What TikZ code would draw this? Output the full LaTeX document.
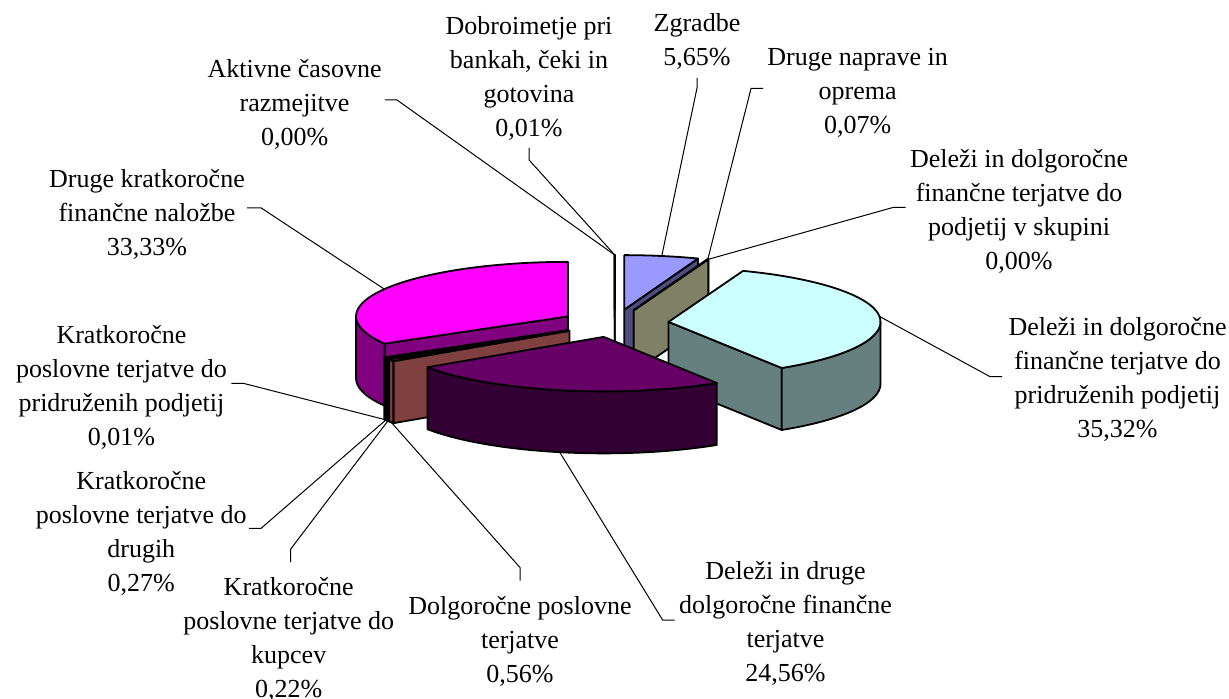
\documentclass[tikz,border=0pt]{standalone}
\usepackage{fontspec}
\setmainfont{Liberation Serif}
\usetikzlibrary{calc, positioning}

\definecolor{zgtop}{HTML}{9999FF}\definecolor{zgside}{HTML}{4D4D80}
\definecolor{nptop}{HTML}{993366}\definecolor{npside}{HTML}{4D1A33}
\definecolor{sktop}{HTML}{FFFFCC}\definecolor{skside}{HTML}{808066}
\definecolor{prtop}{HTML}{CCFFFF}\definecolor{prside}{HTML}{668080}
\definecolor{ddtop}{HTML}{660066}\definecolor{ddside}{HTML}{330033}
\definecolor{dptop}{HTML}{FF8080}\definecolor{dpside}{HTML}{804040}
\definecolor{kutop}{HTML}{0066CC}\definecolor{kuside}{HTML}{003366}
\definecolor{drtop}{HTML}{CCCCFF}\definecolor{drside}{HTML}{666680}
\definecolor{kptop}{HTML}{000080}\definecolor{kpside}{HTML}{000040}
\definecolor{kftop}{HTML}{FF00FF}\definecolor{kfside}{HTML}{800080}
\definecolor{aktop}{HTML}{FFFF00}\definecolor{akside}{HTML}{808000}
\definecolor{dbtop}{HTML}{00FFFF}\definecolor{dbside}{HTML}{008080}

\newcommand{\pcx}{614.8}
\newcommand{\pcy}{323.3}
\newcommand{\prx}{212}
\newcommand{\pry}{54.5}
\newcommand{\pdep}{62}
\newcommand{\pexp}{54}
\newcommand{\pk}{0.257}

% #1,#2 angles, #3 top colour, #4 side colour, #5 leader tip
\newcommand{\pieslice}[5]{%
  \pgfmathsetmacro{\am}{(#1+#2)/2}%
  \pgfmathsetmacro{\ox}{\pcx+\pexp*cos(\am)}%
  \pgfmathsetmacro{\oy}{\pcy-\pexp*\pk*sin(\am)}%
  \pgfmathsetmacro{\sa}{-1*(#1)}%
  \pgfmathsetmacro{\sb}{-1*(#2)}%
  \pgfmathtruncatemacro{\vis}{cos(#1)>0}%
  \ifnum\vis=1
    \filldraw[face, fill=#4] (\ox,\oy) -- ({\ox+\prx*cos(#1)},{\oy-\pry*sin(#1)}) -- ++(0,\pdep) -- (\ox,{\oy+\pdep}) -- cycle;
  \fi
  \pgfmathtruncatemacro{\vis}{cos(#2)<0}%
  \ifnum\vis=1
    \filldraw[face, fill=#4] (\ox,\oy) -- ({\ox+\prx*cos(#2)},{\oy-\pry*sin(#2)}) -- ++(0,\pdep) -- (\ox,{\oy+\pdep}) -- cycle;
  \fi
  \pgfmathsetmacro{\wa}{max(#1,-180)}%
  \pgfmathsetmacro{\wb}{min(#2,0)}%
  \pgfmathsetmacro{\wsa}{-1*\wa}%
  \pgfmathsetmacro{\wsb}{-1*\wb}%
  \pgfmathtruncatemacro{\vis}{\wb>\wa}%
  \ifnum\vis=1
    \filldraw[face, fill=#4] ({\ox+\prx*cos(\wa)},{\oy-\pry*sin(\wa)}) arc[start angle=\wsa, end angle=\wsb, x radius=\prx, y radius=\pry] -- ++(0,\pdep) arc[start angle=\wsb, end angle=\wsa, x radius=\prx, y radius=\pry] -- cycle;
  \fi
  \filldraw[face, fill=#3] (\ox,\oy) -- ({\ox+\prx*cos(#1)},{\oy-\pry*sin(#1)}) arc[start angle=\sa, end angle=\sb, x radius=\prx, y radius=\pry] -- cycle;
  \pgfmathsetmacro{\tipdy}{sin(\am)>0 ? 0 : \pdep}%
  \coordinate (#5) at ({\ox+\prx*cos(\am)},{\oy-\pry*sin(\am)+\tipdy});
}

\begin{document}
\begin{tikzpicture}[x=0.5pt, y=-0.5pt,
  face/.style={draw=black, line width=0.9pt, line join=round},
  leader/.style={draw=black, line width=0.5pt},
  lbl/.style={align=center, inner sep=0pt, font=\fontsize{13}{17}\selectfont}]
\useasboundingbox (0,0) rectangle (1229,699);
\fill[white] (0,0) rectangle (1229,699);

% slices, back to front
\pieslice{-270}{-269.964}{dbtop}{dbside}{dbpie}
\pieslice{-269.964}{-269.964}{aktop}{akside}{akpie}
\pieslice{69.66}{90}{zgtop}{zgside}{zgpie}
\pieslice{69.408}{69.66}{nptop}{npside}{nppie}
\pieslice{69.408}{69.408}{sktop}{skside}{skpie}
\pieslice{-269.964}{-149.976}{kftop}{kfside}{kfpie}
\pieslice{-57.744}{69.408}{prtop}{prside}{prpie}
\pieslice{-149.976}{-149.94}{kptop}{kpside}{kppie}
\pieslice{-149.94}{-148.968}{drtop}{drside}{drpie}
\pieslice{-148.968}{-148.176}{kutop}{kuside}{kupie}
\pieslice{-148.176}{-146.16}{dptop}{dpside}{dppie}
\pieslice{-146.16}{-57.744}{ddtop}{ddside}{ddpie}

\node[lbl] (aklbl) at (294.6,104.5) {Aktivne časovne\\razmejitve\\0,00\%};
\node[lbl] (dblbl) at (529,78.5) {Dobroimetje pri\\bankah, čeki in\\gotovina\\0,01\%};
\node[lbl] (kflbl) at (147,214.5) {Druge kratkoročne\\finančne naložbe\\33,33\%};
\node[lbl] (zglbl) at (697,41.5) {Zgradbe\\5,65\%};
\node[lbl] (nplbl) at (857.7,93) {Druge naprave in\\oprema\\0,07\%};
\node[lbl] (sklbl) at (1019,211) {Deleži in dolgoročne\\finančne terjatve do\\podjetij v skupini\\0,00\%};
\node[lbl] (prlbl) at (1117.5,379.5) {Deleži in dolgoročne\\finančne terjatve do\\pridruženih podjetij\\35,32\%};
\node[lbl] (ddlbl) at (785.5,623.5) {Deleži in druge\\dolgoročne finančne\\terjatve\\24,56\%};
\node[lbl] (dplbl) at (520,641) {Dolgoročne poslovne\\terjatve\\0,56\%};
\node[lbl] (kulbl) at (288.7,639.5) {Kratkoročne\\poslovne terjatve do\\kupcev\\0,22\%};
\node[lbl] (drlbl) at (141.3,533) {Kratkoročne\\poslovne terjatve do\\drugih\\0,27\%};
\node[lbl] (kplbl) at (121.5,387) {Kratkoročne\\poslovne terjatve do\\pridruženih podjetij\\0,01\%};

\draw[leader] ($(aklbl.east)+(3,-4.5)$) -- ++(12,0) -- (akpie);
\draw[leader] ($(dblbl.south)+(0,7)$) -- ++(0,12) -- (dbpie);
\draw[leader] ($(kflbl.east)+(2,-6.5)$) -- ++(14,0) -- (kfpie);
\draw[leader] ($(zglbl.south)+(0,8)$) -- ++(0,10) -- (zgpie);
\draw[leader] ($(nplbl.west)+(-4,-4.7)$) -- ++(-12,0) -- (nppie);
\draw[leader] ($(sklbl.west)+(-4,-3.7)$) -- ++(-12,0) -- (skpie);
\draw[leader] ($(prlbl.west)+(-6,-2.8)$) -- ++(-12,0) -- (prpie);
\draw[leader] ($(ddlbl.west)+(-4,-3.5)$) -- ++(-12,0) -- (ddpie);
\draw[leader] ($(dplbl.north)+(0,-15)$) -- ++(0,-13) -- (dppie);
\draw[leader] ($(kulbl.north)+(2,-15)$) -- ++(0,-13) -- (kupie);
\draw[leader] ($(drlbl.east)+(2,-4.7)$) -- ++(12,0) -- (drpie);
\draw[leader] ($(kplbl.east)+(4,-3.7)$) -- ++(12,0) -- (kppie);
\end{tikzpicture}
\end{document}
